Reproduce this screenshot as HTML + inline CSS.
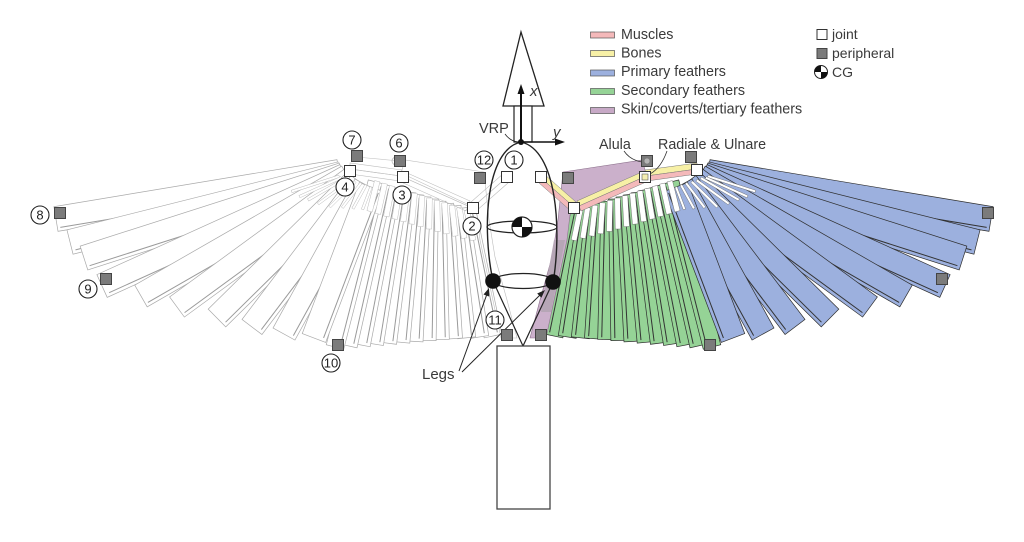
<!DOCTYPE html>
<html><head><meta charset="utf-8"><style>
html,body{margin:0;padding:0;background:#fff;}
svg{display:block;}
text{font-family:"Liberation Sans",Arial,sans-serif;fill:#3a3a3a;}
.L rect{fill:#fff;stroke:#a9a9a9;stroke-width:.7}
.L line{stroke:#9a9a9a;stroke-width:1}
.L .c rect{fill:#fff;stroke:#b8b8b8;stroke-width:.45}
.L polygon{fill:none;stroke:#bdbdbd;stroke-width:.6}
.R .s rect{fill:#95d396;stroke:#2e2e2e;stroke-width:.7}
.R .p rect{fill:#9cb0de;stroke:#2e2e2e;stroke-width:.7}
.R line{stroke:#333;stroke-width:1}
.R .c rect{fill:#fff;stroke:#666;stroke-width:.4}
.jt{fill:#fff;stroke:#333;stroke-width:1}
.pp{fill:#7b7b7b;stroke:#444;stroke-width:1}
.num circle{fill:#fff;stroke:#222;stroke-width:1.1}
.num text{font-size:13px;fill:#222;text-anchor:middle}
</style></head><body>
<svg width="1024" height="542" viewBox="0 0 1024 542" xmlns="http://www.w3.org/2000/svg">

<!-- LEFT WING (mirror, outlines) -->
<g class="L" transform="matrix(-1 0 0 1 1047 0)">
 <g class="s">
  <g transform="translate(580 211) rotate(101.75)"><rect y="-9" width="127.7" height="18"/><line x1="3" y1="5" x2="125" y2="5"/></g>
  <g transform="translate(587.5 208.6) rotate(98.99)"><rect y="-9" width="129.9" height="18"/><line x1="3" y1="5" x2="127" y2="5"/></g>
  <g transform="translate(595 206.2) rotate(96.37)"><rect y="-9" width="132.4" height="18"/><line x1="3" y1="5" x2="130" y2="5"/></g>
  <g transform="translate(602.5 203.8) rotate(93.82)"><rect y="-9" width="135.2" height="18"/><line x1="3" y1="5" x2="133" y2="5"/></g>
  <g transform="translate(610 201.4) rotate(91.37)"><rect y="-9" width="138.2" height="18"/><line x1="3" y1="5" x2="136" y2="5"/></g>
  <g transform="translate(617.5 199) rotate(89.03)"><rect y="-9" width="141.5" height="18"/><line x1="3" y1="5" x2="139" y2="5"/></g>
  <g transform="translate(625 196.6) rotate(86.84)"><rect y="-9" width="145" height="18"/><line x1="3" y1="5" x2="142" y2="5"/></g>
  <g transform="translate(632.5 194.2) rotate(84.72)"><rect y="-9" width="148.7" height="18"/><line x1="3" y1="5" x2="146" y2="5"/></g>
  <g transform="translate(640 191.8) rotate(82.7)"><rect y="-9" width="152.6" height="18"/><line x1="3" y1="5" x2="150" y2="5"/></g>
  <g transform="translate(647.5 189.4) rotate(80.82)"><rect y="-9" width="156.7" height="18"/><line x1="3" y1="5" x2="154" y2="5"/></g>
  <g transform="translate(655 187) rotate(79)"><rect y="-9" width="161" height="18"/><line x1="3" y1="5" x2="158" y2="5"/></g>
  <g transform="translate(662.5 184.6) rotate(77.32)"><rect y="-9" width="165.3" height="18"/><line x1="3" y1="5" x2="162" y2="5"/></g>
  <g transform="translate(670 182.2) rotate(75.7)"><rect y="-9" width="170.1" height="18"/><line x1="3" y1="5" x2="167" y2="5"/></g>
 </g>
 <g class="p">
  <g transform="translate(708 172) rotate(9.43)"><rect y="-12.5" width="286.9" height="25"/><line x1="3" y1="9" x2="284" y2="9"/></g>
  <g transform="translate(706 174) rotate(14.09)"><rect y="-12.5" width="279.4" height="25"/><line x1="3" y1="9" x2="276" y2="9"/></g>
  <g transform="translate(704 175) rotate(17.77)"><rect y="-12.5" width="272" height="25"/><line x1="3" y1="9" x2="269" y2="9"/></g>
  <g transform="translate(702 176) rotate(24.36)"><rect y="-12.5" width="266.7" height="25"/><line x1="3" y1="9" x2="263" y2="9"/></g>
  <g transform="translate(699 177) rotate(29.89)"><rect y="-12.5" width="238.8" height="25"/><line x1="3" y1="9" x2="236" y2="9"/></g>
  <g transform="translate(695 179) rotate(36.18)"><rect y="-12.5" width="216.8" height="25"/><line x1="3" y1="9" x2="214" y2="9"/></g>
  <g transform="translate(691 181) rotate(44.58)"><rect y="-12.5" width="195.2" height="25"/><line x1="3" y1="9" x2="192" y2="9"/></g>
  <g transform="translate(686 183) rotate(52.87)"><rect y="-12.5" width="180.6" height="25"/><line x1="3" y1="9" x2="177" y2="9"/></g>
  <g transform="translate(681 185) rotate(61.17)"><rect y="-12.5" width="170.1" height="25"/><line x1="3" y1="9" x2="167" y2="9"/></g>
  <g transform="translate(676 187) rotate(69.3)"><rect y="-12.5" width="161.4" height="25"/><line x1="3" y1="9" x2="158" y2="9"/></g>
 </g>
 <g class="c">
  <rect transform="translate(580 211) rotate(101.75)" x="-1" y="-2.75" width="31" height="5.5"/>
  <rect transform="translate(587.5 208.6) rotate(98.99)" x="-1" y="-2.75" width="31" height="5.5"/>
  <rect transform="translate(595 206.2) rotate(96.37)" x="-1" y="-2.75" width="31" height="5.5"/>
  <rect transform="translate(602.5 203.8) rotate(93.82)" x="-1" y="-2.75" width="31" height="5.5"/>
  <rect transform="translate(610 201.4) rotate(91.37)" x="-1" y="-2.75" width="31" height="5.5"/>
  <rect transform="translate(617.5 199) rotate(89.03)" x="-1" y="-2.75" width="31" height="5.5"/>
  <rect transform="translate(625 196.6) rotate(86.84)" x="-1" y="-2.75" width="31" height="5.5"/>
  <rect transform="translate(632.5 194.2) rotate(84.72)" x="-1" y="-2.75" width="31" height="5.5"/>
  <rect transform="translate(640 191.8) rotate(82.7)" x="-1" y="-2.75" width="31" height="5.5"/>
  <rect transform="translate(647.5 189.4) rotate(80.82)" x="-1" y="-2.75" width="31" height="5.5"/>
  <rect transform="translate(655 187) rotate(79)" x="-1" y="-2.75" width="31" height="5.5"/>
  <rect transform="translate(662.5 184.6) rotate(77.32)" x="-1" y="-2.75" width="31" height="5.5"/>
  <rect transform="translate(670 182.2) rotate(75.7)" x="-1" y="-2.75" width="31" height="5.5"/>
  <rect transform="translate(704 175) rotate(17.77)" x="4" y="-1.25" width="50" height="2.5"/>
  <rect transform="translate(702 176) rotate(24.36)" x="4" y="-1.25" width="46" height="2.5"/>
  <rect transform="translate(699 177) rotate(29.89)" x="2" y="-1.25" width="44" height="2.5"/>
  <rect transform="translate(695 179) rotate(36.18)" x="2" y="-1.25" width="40" height="2.5"/>
  <rect transform="translate(691 181) rotate(44.58)" x="1" y="-1.25" width="36" height="2.5"/>
  <rect transform="translate(686 183) rotate(52.87)" x="0" y="-1.25" width="31" height="2.5"/>
  <rect transform="translate(681 185) rotate(61.17)" x="0" y="-1.25" width="27" height="2.5"/>
  <rect transform="translate(676 187) rotate(69.3)" x="0" y="-1.25" width="24" height="2.5"/>
 </g>
 <polygon points="563,172 642,160 646,173 578,205 570,215 567,240 546,338 530,338 540,300 552,257 558,220"/>
 <polygon points="541,178 574,207 577.3,203.2 544.3,174.2"/>
 <polygon points="541,178 574,207 570.7,210.8 537.7,181.8"/>
 <polygon points="577,201 642,172 644,177 579,206"/>
 <polygon points="579,206 644,177 646,182 581,211"/>
 <polygon points="645,170 697,163 697,169 646,176"/>
 <polygon points="646,176 697,169 697,174 647,181"/>
 <line x1="647" y1="161" x2="691" y2="157" style="stroke:#c4c4c4;stroke-width:.6"/>
</g>

<!-- RIGHT WING (coloured) -->
<g class="R">
 <g class="s">
  <g transform="translate(580 211) rotate(101.75)"><rect y="-9" width="127.7" height="18"/><line x1="3" y1="5" x2="125" y2="5"/></g>
  <g transform="translate(587.5 208.6) rotate(98.99)"><rect y="-9" width="129.9" height="18"/><line x1="3" y1="5" x2="127" y2="5"/></g>
  <g transform="translate(595 206.2) rotate(96.37)"><rect y="-9" width="132.4" height="18"/><line x1="3" y1="5" x2="130" y2="5"/></g>
  <g transform="translate(602.5 203.8) rotate(93.82)"><rect y="-9" width="135.2" height="18"/><line x1="3" y1="5" x2="133" y2="5"/></g>
  <g transform="translate(610 201.4) rotate(91.37)"><rect y="-9" width="138.2" height="18"/><line x1="3" y1="5" x2="136" y2="5"/></g>
  <g transform="translate(617.5 199) rotate(89.03)"><rect y="-9" width="141.5" height="18"/><line x1="3" y1="5" x2="139" y2="5"/></g>
  <g transform="translate(625 196.6) rotate(86.84)"><rect y="-9" width="145" height="18"/><line x1="3" y1="5" x2="142" y2="5"/></g>
  <g transform="translate(632.5 194.2) rotate(84.72)"><rect y="-9" width="148.7" height="18"/><line x1="3" y1="5" x2="146" y2="5"/></g>
  <g transform="translate(640 191.8) rotate(82.7)"><rect y="-9" width="152.6" height="18"/><line x1="3" y1="5" x2="150" y2="5"/></g>
  <g transform="translate(647.5 189.4) rotate(80.82)"><rect y="-9" width="156.7" height="18"/><line x1="3" y1="5" x2="154" y2="5"/></g>
  <g transform="translate(655 187) rotate(79)"><rect y="-9" width="161" height="18"/><line x1="3" y1="5" x2="158" y2="5"/></g>
  <g transform="translate(662.5 184.6) rotate(77.32)"><rect y="-9" width="165.3" height="18"/><line x1="3" y1="5" x2="162" y2="5"/></g>
  <g transform="translate(670 182.2) rotate(75.7)"><rect y="-9" width="170.1" height="18"/><line x1="3" y1="5" x2="167" y2="5"/></g>
 </g>
 <g class="p">
  <g transform="translate(708 172) rotate(9.43)"><rect y="-12.5" width="286.9" height="25"/><line x1="3" y1="9" x2="284" y2="9"/></g>
  <g transform="translate(706 174) rotate(14.09)"><rect y="-12.5" width="279.4" height="25"/><line x1="3" y1="9" x2="276" y2="9"/></g>
  <g transform="translate(704 175) rotate(17.77)"><rect y="-12.5" width="272" height="25"/><line x1="3" y1="9" x2="269" y2="9"/></g>
  <g transform="translate(702 176) rotate(24.36)"><rect y="-12.5" width="266.7" height="25"/><line x1="3" y1="9" x2="263" y2="9"/></g>
  <g transform="translate(699 177) rotate(29.89)"><rect y="-12.5" width="238.8" height="25"/><line x1="3" y1="9" x2="236" y2="9"/></g>
  <g transform="translate(695 179) rotate(36.18)"><rect y="-12.5" width="216.8" height="25"/><line x1="3" y1="9" x2="214" y2="9"/></g>
  <g transform="translate(691 181) rotate(44.58)"><rect y="-12.5" width="195.2" height="25"/><line x1="3" y1="9" x2="192" y2="9"/></g>
  <g transform="translate(686 183) rotate(52.87)"><rect y="-12.5" width="180.6" height="25"/><line x1="3" y1="9" x2="177" y2="9"/></g>
  <g transform="translate(681 185) rotate(61.17)"><rect y="-12.5" width="170.1" height="25"/><line x1="3" y1="9" x2="167" y2="9"/></g>
  <g transform="translate(676 187) rotate(69.3)"><rect y="-12.5" width="161.4" height="25"/><line x1="3" y1="9" x2="158" y2="9"/></g>
 </g>
 <g class="c">
  <rect transform="translate(580 211) rotate(101.75)" x="-1" y="-2.75" width="31" height="5.5"/>
  <rect transform="translate(587.5 208.6) rotate(98.99)" x="-1" y="-2.75" width="31" height="5.5"/>
  <rect transform="translate(595 206.2) rotate(96.37)" x="-1" y="-2.75" width="31" height="5.5"/>
  <rect transform="translate(602.5 203.8) rotate(93.82)" x="-1" y="-2.75" width="31" height="5.5"/>
  <rect transform="translate(610 201.4) rotate(91.37)" x="-1" y="-2.75" width="31" height="5.5"/>
  <rect transform="translate(617.5 199) rotate(89.03)" x="-1" y="-2.75" width="31" height="5.5"/>
  <rect transform="translate(625 196.6) rotate(86.84)" x="-1" y="-2.75" width="31" height="5.5"/>
  <rect transform="translate(632.5 194.2) rotate(84.72)" x="-1" y="-2.75" width="31" height="5.5"/>
  <rect transform="translate(640 191.8) rotate(82.7)" x="-1" y="-2.75" width="31" height="5.5"/>
  <rect transform="translate(647.5 189.4) rotate(80.82)" x="-1" y="-2.75" width="31" height="5.5"/>
  <rect transform="translate(655 187) rotate(79)" x="-1" y="-2.75" width="31" height="5.5"/>
  <rect transform="translate(662.5 184.6) rotate(77.32)" x="-1" y="-2.75" width="31" height="5.5"/>
  <rect transform="translate(670 182.2) rotate(75.7)" x="-1" y="-2.75" width="31" height="5.5"/>
  <rect transform="translate(704 175) rotate(17.77)" x="4" y="-1.25" width="50" height="2.5"/>
  <rect transform="translate(702 176) rotate(24.36)" x="4" y="-1.25" width="46" height="2.5"/>
  <rect transform="translate(699 177) rotate(29.89)" x="2" y="-1.25" width="44" height="2.5"/>
  <rect transform="translate(695 179) rotate(36.18)" x="2" y="-1.25" width="40" height="2.5"/>
  <rect transform="translate(691 181) rotate(44.58)" x="1" y="-1.25" width="36" height="2.5"/>
  <rect transform="translate(686 183) rotate(52.87)" x="0" y="-1.25" width="31" height="2.5"/>
  <rect transform="translate(681 185) rotate(61.17)" x="0" y="-1.25" width="27" height="2.5"/>
  <rect transform="translate(676 187) rotate(69.3)" x="0" y="-1.25" width="24" height="2.5"/>
 </g>
 <polygon points="563,172 642,160 646,173 578,205 570,215 567,240 546,338 530,338 540,300 552,257 558,220" fill="#cbb0cb" stroke="#8d728d" stroke-width=".6"/>
 <polygon points="554,240 565,240 551,312 541,312" fill="#b6a6b6"/>
 <g stroke="#777" stroke-width=".5">
  <polygon points="541,178 574,207 577.3,203.2 544.3,174.2" fill="#f7f0a6"/>
  <polygon points="541,178 574,207 570.7,210.8 537.7,181.8" fill="#f4b9ba"/>
  <polygon points="577,201 642,172 644,177 579,206" fill="#f7f0a6"/>
  <polygon points="579,206 644,177 646,182 581,211" fill="#f4b9ba"/>
  <polygon points="645,170 697,163 697,169 646,176" fill="#f7f0a6"/>
  <polygon points="646,176 697,169 697,174 647,181" fill="#f4b9ba"/>
 </g>
</g>

<!-- BODY -->
<polygon points="521,32 503,106 544,106" fill="#fff" stroke="#222" stroke-width="1.3"/>
<rect x="514" y="106" width="18" height="36" fill="#fff" stroke="#222" stroke-width="1.2"/>
<path d="M493,281 C482,230 485,150 521,142 C557,150 562,230 553,283" fill="none" stroke="#222" stroke-width="1.4"/>
<ellipse cx="522" cy="227" rx="35" ry="6" fill="none" stroke="#222" stroke-width="1.2"/>
<circle cx="522" cy="227" r="10" fill="#fff" stroke="#222" stroke-width="1.2"/>
<path d="M522,227 L512,227 A10,10 0 0,1 522,217 Z" fill="#111"/>
<path d="M522,227 L532,227 A10,10 0 0,1 522,237 Z" fill="#111"/>
<ellipse cx="523" cy="281" rx="30" ry="7.5" fill="none" stroke="#222" stroke-width="1.2"/>
<line x1="493" y1="281" x2="523" y2="346" stroke="#222" stroke-width="1.2"/>
<line x1="553" y1="282" x2="523" y2="346" stroke="#222" stroke-width="1.2"/>
<circle cx="493" cy="281" r="7.8" fill="#111"/>
<circle cx="553" cy="282" r="7.8" fill="#111"/>
<rect x="497" y="346" width="53" height="163" fill="#fff" stroke="#444" stroke-width="1.3"/>

<!-- axes -->
<line x1="521" y1="142" x2="521" y2="92" stroke="#111" stroke-width="2"/>
<polygon points="521,84 517.5,94 524.5,94" fill="#111"/>
<line x1="521" y1="142" x2="556" y2="142" stroke="#111" stroke-width="1.6"/>
<polygon points="565,142 555,138.5 555,145.5" fill="#111"/>
<circle cx="521" cy="142" r="3" fill="#111"/>
<path d="M505,134 Q510,141 518,142" fill="none" stroke="#222" stroke-width=".8"/>
<text x="479" y="133" font-size="14.5">VRP</text>
<text x="530" y="96" font-size="15" font-style="italic">x</text>
<text x="553" y="137" font-size="15" font-style="italic">y</text>

<!-- legs arrows -->
<line x1="459" y1="371" x2="487" y2="294" stroke="#222" stroke-width="1"/>
<polygon points="489,288 483.5,294.5 489.1,296.5" fill="#222"/>
<line x1="462" y1="372" x2="540" y2="295" stroke="#222" stroke-width="1"/>
<polygon points="545,290 537.2,293.5 541.4,297.7" fill="#222"/>
<text x="422" y="379" font-size="15">Legs</text>

<!-- alula / radiale labels -->
<path d="M624,151 Q630,160 642,162" fill="none" stroke="#333" stroke-width=".8"/>
<path d="M667,151 Q661,168 650,174" fill="none" stroke="#333" stroke-width=".8"/>
<text x="599" y="149" font-size="14.3">Alula</text>
<text x="658" y="149" font-size="14.3">Radiale &amp; Ulnare</text>

<!-- alula circles -->
<circle cx="396" cy="161" r="4" fill="none" stroke="#bbb" stroke-width=".8"/>

<!-- joints -->
<g class="jt">
 <rect x="501.5" y="171.5" width="11" height="11"/>
 <rect x="535.5" y="171.5" width="11" height="11"/>
 <rect x="467.5" y="202.5" width="11" height="11"/>
 <rect x="568.5" y="202.5" width="11" height="11"/>
 <rect x="397.5" y="171.5" width="11" height="11"/>
 <rect x="344.5" y="165.5" width="11" height="11"/>
 <rect x="639.5" y="171.5" width="11" height="11"/>
 <rect x="691.5" y="164.5" width="11" height="11"/>
</g>
<rect x="642" y="174" width="6" height="6" fill="#f5eeb0" stroke="#555" stroke-width=".6"/>
<!-- peripherals -->
<g class="pp">
 <rect x="474.5" y="172.5" width="11" height="11"/>
 <rect x="562.5" y="172.5" width="11" height="11"/>
 <rect x="394.5" y="155.5" width="11" height="11"/>
 <rect x="351.5" y="150.5" width="11" height="11"/>
 <rect x="54.5" y="207.5" width="11" height="11"/>
 <rect x="100.5" y="273.5" width="11" height="11"/>
 <rect x="332.5" y="339.5" width="11" height="11"/>
 <rect x="501.5" y="329.5" width="11" height="11"/>
 <rect x="535.5" y="329.5" width="11" height="11"/>
 <rect x="641.5" y="155.5" width="11" height="11"/>
 <rect x="685.5" y="151.5" width="11" height="11"/>
 <rect x="982.5" y="207.5" width="11" height="11"/>
 <rect x="936.5" y="273.5" width="11" height="11"/>
 <rect x="704.5" y="339.5" width="11" height="11"/>
</g>
<circle cx="647" cy="161" r="2.6" fill="#b5b5b5"/>

<!-- numbered circles -->
<g class="num">
 <circle cx="514" cy="160" r="9"/><text x="514" y="164.5">1</text>
 <circle cx="484" cy="160" r="9"/><text x="484" y="164.5">12</text>
 <circle cx="472" cy="226" r="9"/><text x="472" y="230.5">2</text>
 <circle cx="402" cy="195" r="9"/><text x="402" y="199.5">3</text>
 <circle cx="345" cy="187" r="9"/><text x="345" y="191.5">4</text>
 <circle cx="399" cy="143" r="9"/><text x="399" y="147.5">6</text>
 <circle cx="352" cy="140" r="9"/><text x="352" y="144.5">7</text>
 <circle cx="40" cy="215" r="9"/><text x="40" y="219.5">8</text>
 <circle cx="88" cy="289" r="9"/><text x="88" y="293.5">9</text>
 <circle cx="331" cy="363" r="9"/><text x="331" y="367.5">10</text>
 <circle cx="495" cy="320" r="9"/><text x="495" y="324.5">11</text>
</g>

<!-- legend -->
<g stroke="#555" stroke-width=".7">
 <rect x="590.5" y="32" width="24" height="6" fill="#f4b9ba"/>
 <rect x="590.5" y="50.5" width="24" height="6" fill="#f7f0a6"/>
 <rect x="590.5" y="70" width="24" height="6" fill="#9cb0de"/>
 <rect x="590.5" y="88.5" width="24" height="6" fill="#95d396"/>
 <rect x="590.5" y="107.5" width="24" height="6" fill="#c7a9c6"/>
</g>
<text x="621" y="39" font-size="14.3">Muscles</text>
<text x="621" y="57.5" font-size="14.3">Bones</text>
<text x="621" y="76" font-size="14.3">Primary feathers</text>
<text x="621" y="95" font-size="14.3">Secondary feathers</text>
<text x="621" y="113.5" font-size="14.3">Skin/coverts/tertiary feathers</text>

<rect x="817" y="29.5" width="10" height="10" class="jt"/>
<rect x="817" y="48.5" width="10" height="10" class="pp"/>
<circle cx="821" cy="72" r="6.5" fill="#fff" stroke="#222" stroke-width="1"/>
<path d="M821,72 L814.5,72 A6.5,6.5 0 0,1 821,65.5 Z" fill="#111"/>
<path d="M821,72 L827.5,72 A6.5,6.5 0 0,1 821,78.5 Z" fill="#111"/>
<text x="832" y="39" font-size="14">joint</text>
<text x="832" y="58" font-size="14">peripheral</text>
<text x="832" y="77" font-size="14">CG</text>
</svg>
</body></html>
